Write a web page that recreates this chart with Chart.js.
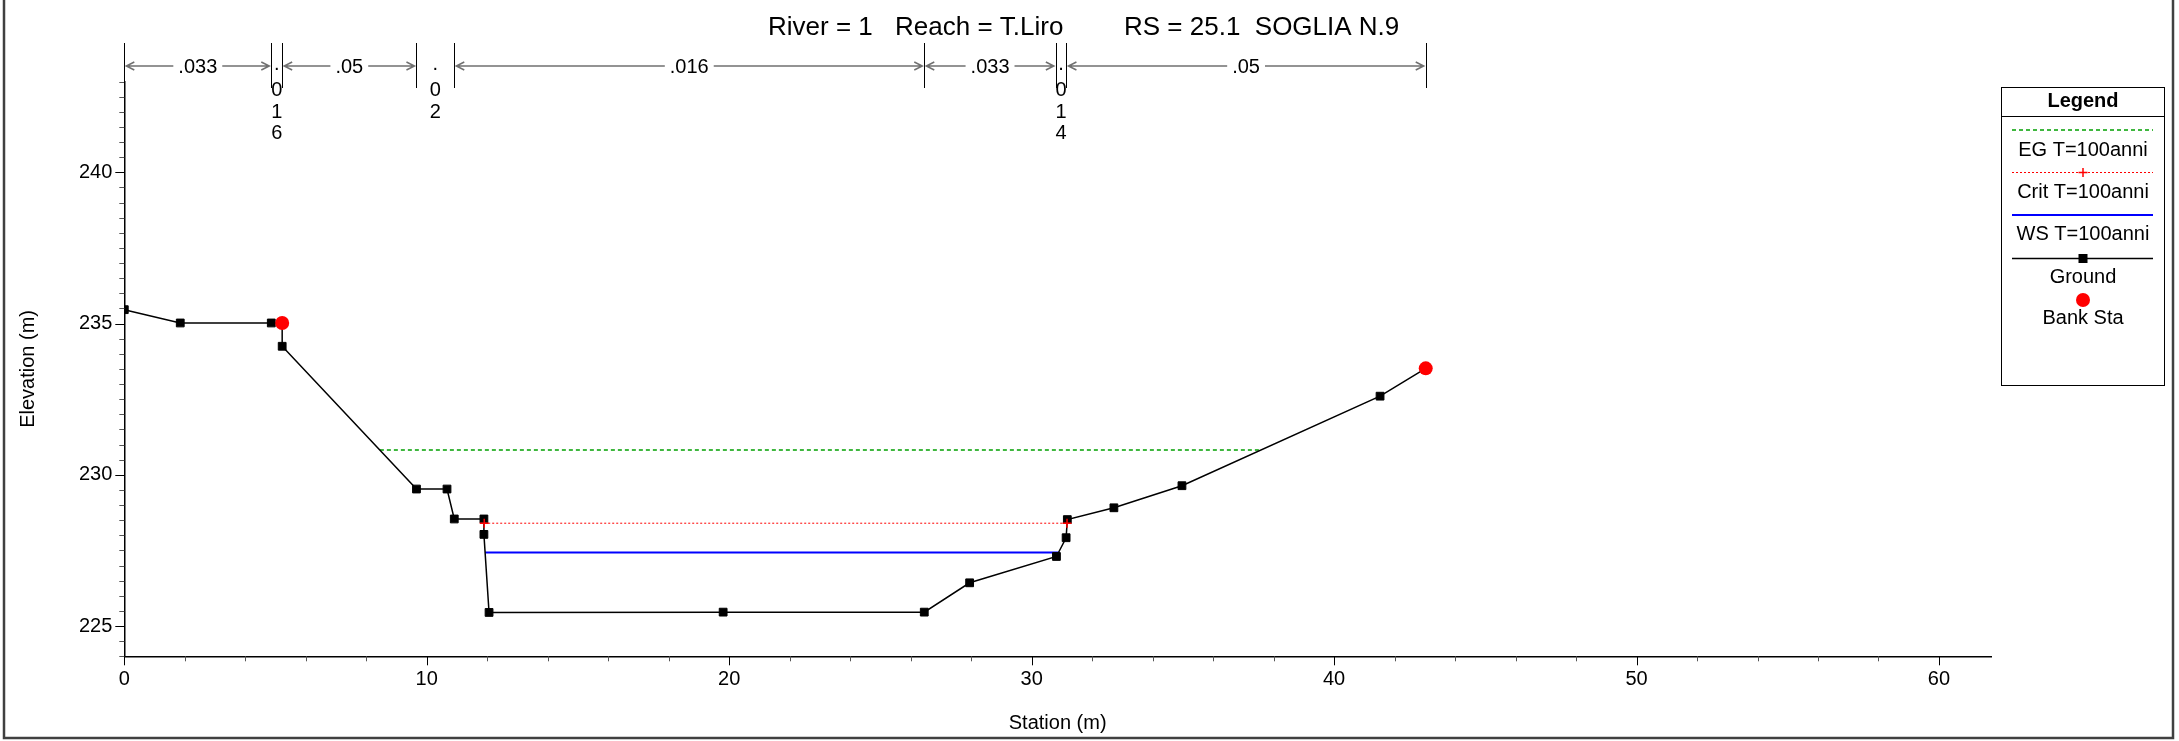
<!DOCTYPE html>
<html><head><meta charset="utf-8">
<script src="https://cdn.jsdelivr.net/npm/chart.js@4.4.1/dist/chart.umd.min.js"></script>
<style>html,body{margin:0;padding:0;background:#fff;overflow:hidden}canvas{display:block}</style>
</head><body>
<canvas id="c" width="2179" height="741" style="width:2179px;height:741px"></canvas>
<script>
// ---- data ----
const groundStation = [0, 1.85, 4.86, 5.22, 5.22, 9.66, 10.67, 10.91, 11.89, 11.89, 12.06, 19.8, 26.45, 27.95, 30.82, 31.14, 31.18, 32.72, 34.97, 41.52, 43.03];
const groundElev    = [235.46, 235.02, 235.02, 235.02, 234.25, 229.53, 229.53, 228.54, 228.54, 228.03, 225.45, 225.46, 225.46, 226.43, 227.30, 227.92, 228.52, 228.91, 229.64, 232.60, 233.52];
const bankStation = [5.22, 43.03];
const bankElev    = [235.02, 233.52];
const egStation = [8.45, 37.57];
const egElev    = [230.82, 230.82];
const critStation = [11.9, 31.17];
const critElev    = [228.40, 228.40];
const wsStation = [11.93, 30.89];
const wsElev    = [227.43, 227.43];
const nBreaks = [0, 4.86, 5.22, 9.66, 10.91, 26.45, 30.8, 31.15, 43.03];
const nValues = ['.033', '.016', '.05', '.02', '.016', '.033', '.014', '.05'];
const titleParts = ['River = 1', 'Reach = T.Liro', 'RS = 25.1  SOGLIA N.9'];
const legendTitle = 'Legend';
const legendLabels = ['EG T=100anni', 'Crit T=100anni', 'WS T=100anni', 'Ground', 'Bank Sta'];
const xAxisTitle = 'Station (m)';
const yAxisTitle = 'Elevation (m)';

const FONT = 'Arial, "Liberation Sans", Helvetica, sans-serif';
const pts = (xs, ys) => xs.map((x, i) => ({x: x, y: ys[i]}));

const overlay = {
  id: 'overlay',
  afterDraw(chart) {
    const ctx = chart.ctx;
    const xs = chart.scales.x, ys = chart.scales.y;
    const ca = chart.chartArea;
    ctx.save();
    // axis ticks
    ctx.lineWidth = 1;
    xs.ticks.forEach(t => {
      const px = Math.round(xs.getPixelForValue(t.value)) + 0.5;
      const major = Math.abs(t.value % 10) < 1e-6;
      ctx.strokeStyle = major ? '#000' : '#555';
      ctx.beginPath(); ctx.moveTo(px, ca.bottom); ctx.lineTo(px, ca.bottom + (major ? 9 : 5)); ctx.stroke();
    });
    ys.ticks.forEach(t => {
      const py = Math.round(ys.getPixelForValue(t.value)) + 0.5;
      const major = Math.abs(t.value % 5) < 1e-6;
      ctx.strokeStyle = major ? '#000' : '#555';
      ctx.beginPath(); ctx.moveTo(ca.left, py); ctx.lineTo(ca.left - (major ? 9 : 5), py); ctx.stroke();
    });

    // title
    ctx.fillStyle = '#000';
    ctx.font = '26px ' + FONT;
    ctx.textBaseline = 'alphabetic';
    ctx.textAlign = 'left';
    const tx = [768, 895, 1124];
    titleParts.forEach((s, i) => ctx.fillText(s, tx[i], 35));

    // axis titles
    ctx.font = '20px ' + FONT;
    ctx.textAlign = 'center';
    ctx.textBaseline = 'middle';
    ctx.fillText(xAxisTitle, (ca.left + ca.right) / 2, 723);
    ctx.save();
    ctx.translate(28, (ca.top + ca.bottom) / 2);
    ctx.rotate(-Math.PI / 2);
    ctx.fillText(yAxisTitle, 0, 0);
    ctx.restore();

    // Manning's n annotation
    const yLine = 66, barTop = 43, barBot = 88;
    ctx.strokeStyle = '#000';
    ctx.lineWidth = 1;
    nBreaks.forEach(b => {
      const px = Math.round(xs.getPixelForValue(b)) + 0.5;
      ctx.beginPath(); ctx.moveTo(px, barTop); ctx.lineTo(px, barBot); ctx.stroke();
    });
    ctx.font = '20px ' + FONT;
    for (let i = 0; i < nValues.length; i++) {
      const x1 = xs.getPixelForValue(nBreaks[i]), x2 = xs.getPixelForValue(nBreaks[i + 1]);
      const cx = (x1 + x2) / 2, w = x2 - x1;
      const txt = nValues[i];
      const tw = ctx.measureText(txt).width;
      ctx.fillStyle = '#000';
      if (w > tw + 40) {
        ctx.strokeStyle = '#707070';
        ctx.lineWidth = 1.5;
        ctx.beginPath();
        ctx.moveTo(x1 + 2, yLine); ctx.lineTo(cx - tw / 2 - 5, yLine);
        ctx.moveTo(cx + tw / 2 + 5, yLine); ctx.lineTo(x2 - 2, yLine);
        ctx.moveTo(x1 + 10, yLine - 4); ctx.lineTo(x1 + 2, yLine); ctx.lineTo(x1 + 10, yLine + 4);
        ctx.moveTo(x2 - 10, yLine - 4); ctx.lineTo(x2 - 2, yLine); ctx.lineTo(x2 - 10, yLine + 4);
        ctx.stroke();
        ctx.textAlign = 'center'; ctx.textBaseline = 'middle';
        ctx.fillText(txt, cx, yLine + 1);
      } else {
        ctx.textAlign = 'center'; ctx.textBaseline = 'middle';
        const ys2 = [64, 90.5, 112, 133.5, 155];
        txt.split('').forEach((ch, j) => ctx.fillText(ch, cx, ys2[j]));
      }
    }

    // legend box
    const L = 2001.5, R = 2164.5, T = 87.5, B = 385.5, cxL = (L + R) / 2;
    ctx.strokeStyle = '#000'; ctx.lineWidth = 1;
    ctx.strokeRect(L, T, R - L, B - T);
    ctx.beginPath(); ctx.moveTo(L, 116.5); ctx.lineTo(R, 116.5); ctx.stroke();
    ctx.fillStyle = '#000';
    ctx.font = 'bold 20px ' + FONT;
    ctx.textAlign = 'center'; ctx.textBaseline = 'middle';
    ctx.fillText(legendTitle, cxL, 101);
    const lx1 = 2012, lx2 = 2153;
    // EG
    ctx.setLineDash([4, 3]); ctx.strokeStyle = '#00a000'; ctx.lineWidth = 1.5;
    ctx.beginPath(); ctx.moveTo(lx1, 130); ctx.lineTo(lx2, 130); ctx.stroke();
    // Crit
    ctx.setLineDash([2, 2]); ctx.strokeStyle = '#ff0000'; ctx.lineWidth = 1;
    ctx.beginPath(); ctx.moveTo(lx1, 172.5); ctx.lineTo(lx2, 172.5); ctx.stroke();
    ctx.setLineDash([]); ctx.lineWidth = 1.5;
    ctx.beginPath(); ctx.moveTo(cxL - 4.5, 172.5); ctx.lineTo(cxL + 4.5, 172.5); ctx.moveTo(cxL, 168); ctx.lineTo(cxL, 177); ctx.stroke();
    // WS
    ctx.strokeStyle = '#0000ff'; ctx.lineWidth = 2;
    ctx.beginPath(); ctx.moveTo(lx1, 215); ctx.lineTo(lx2, 215); ctx.stroke();
    // Ground
    ctx.strokeStyle = '#000'; ctx.lineWidth = 1.5;
    ctx.beginPath(); ctx.moveTo(lx1, 258.5); ctx.lineTo(lx2, 258.5); ctx.stroke();
    ctx.fillStyle = '#000'; ctx.fillRect(cxL - 4.5, 254, 9, 9);
    // Bank
    ctx.fillStyle = '#ff0000';
    ctx.beginPath(); ctx.arc(cxL, 300, 7, 0, Math.PI * 2); ctx.fill();
    ctx.fillStyle = '#000';
    ctx.font = '20px ' + FONT;
    const ly = [150, 192, 234, 277, 318];
    legendLabels.forEach((s, i) => ctx.fillText(s, cxL, ly[i]));

    // outer frame
    ctx.strokeStyle = '#404040'; ctx.lineWidth = 2.5;
    ctx.strokeRect(4, -2, 2169, 740);
    ctx.restore();
  }
};

new Chart(document.getElementById('c'), {
  type: 'scatter',
  data: {
    datasets: [
      { label: 'Bank Sta', data: pts(bankStation, bankElev), showLine: false, order: 0,
        pointStyle: 'circle', pointRadius: 7, pointBackgroundColor: '#ff0000', pointBorderColor: '#ff0000', pointBorderWidth: 0 },
      { label: 'Crit T=100anni', data: pts(critStation, critElev), showLine: true, order: 1,
        borderColor: '#ff0000', borderWidth: 1, borderDash: [2, 2],
        pointStyle: 'cross', pointRadius: 4.5, pointBorderColor: '#ff0000', pointBorderWidth: 1.5 },
      { label: 'Ground', data: pts(groundStation, groundElev), showLine: true, order: 2,
        borderColor: '#000', borderWidth: 1.5,
        pointStyle: 'rect', pointRadius: 5.5, pointBackgroundColor: '#000', pointBorderColor: '#000', pointBorderWidth: 1 },
      { label: 'WS T=100anni', data: pts(wsStation, wsElev), showLine: true, order: 3,
        borderColor: '#0000ff', borderWidth: 2, pointRadius: 0 },
      { label: 'EG T=100anni', data: pts(egStation, egElev), showLine: true, order: 4,
        borderColor: '#00a000', borderWidth: 1.5, borderDash: [4, 3], pointRadius: 0 }
    ]
  },
  options: {
    responsive: false, animation: false, events: [],
    layout: { padding: { left: 0, right: 188, top: 81.6, bottom: 0 } },
    plugins: { legend: { display: false }, tooltip: { enabled: false }, title: { display: false } },
    scales: {
      x: {
        type: 'linear', min: 0, max: 61.72,
        afterFit(s) { s.height = 84.7; },
        ticks: { stepSize: 2, includeBounds: false, autoSkip: false, maxRotation: 0, padding: 11, color: '#000',
          font: { family: FONT, size: 20 },
          callback: v => (Math.abs(v % 10) < 1e-6 ? String(v) : '') },
        grid: { display: true, drawOnChartArea: false, drawTicks: false },
        border: { display: true, color: '#000', width: 1.5 }
      },
      y: {
        type: 'linear', min: 224, max: 243,
        afterFit(s) { s.width = 124.3; },
        ticks: { stepSize: 0.5, includeBounds: false, autoSkip: false, padding: 12, color: '#000',
          font: { family: FONT, size: 20 },
          callback: v => (Math.abs(v % 5) < 1e-6 ? String(v) : '') },
        grid: { display: true, drawOnChartArea: false, drawTicks: false },
        border: { display: true, color: '#000', width: 1.5 }
      }
    }
  },
  plugins: [overlay]
});
</script>
</body></html>
